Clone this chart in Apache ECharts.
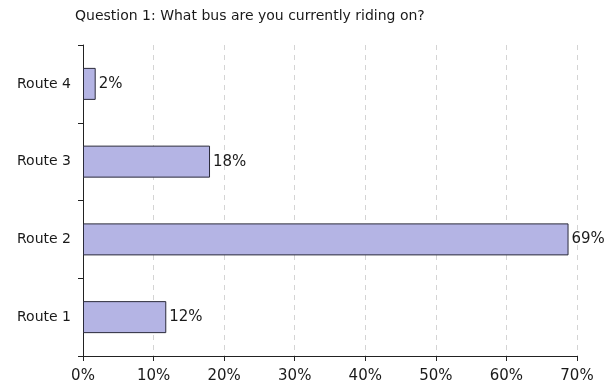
<!DOCTYPE html>
<html><head><meta charset="utf-8">
<script src="https://cdn.jsdelivr.net/npm/echarts@6/dist/echarts.min.js"></script>
<style>html,body{margin:0;padding:0;background:#fff}#c{width:604px;height:386px}</style>
</head><body><div id="c"></div>
<script>
const categories = ['Route 1', 'Route 2', 'Route 3', 'Route 4'];
const values = [11.8, 68.8, 18, 1.8];
const xTicks = [0, 10, 20, 30, 40, 50, 60, 70];
const titleText = 'Question 1: What bus are you currently riding on?';

const chart = echarts.init(document.getElementById('c'));
chart.setOption({
  animation: false,
  backgroundColor: '#fff',
  textStyle: { fontFamily: 'DejaVu Sans' },
  title: {
    text: titleText, left: 75, top: 9, padding: 0,
    textStyle: { fontFamily: 'DejaVu Sans', fontSize: 14, fontWeight: 'normal', color: '#1a1a1a' }
  },
  grid: { left: 83, right: 27, top: 45, bottom: 30 },
  xAxis: {
    type: 'value', min: xTicks[0], max: xTicks[xTicks.length - 1], interval: 10,
    axisLine: { show: true, lineStyle: { color: '#222' } },
    axisTick: { show: true, length: 5, lineStyle: { color: '#222' } },
    axisLabel: { formatter: v => v + '%', fontSize: 15, color: '#1a1a1a', margin: 13 },
    splitLine: { show: true, lineStyle: { color: '#d4d4d4', type: [5, 5] } }
  },
  yAxis: {
    type: 'category', data: categories,
    axisLine: { show: true, lineStyle: { color: '#222' } },
    axisTick: { show: true, length: 5, lineStyle: { color: '#222' } },
    axisLabel: { fontSize: 14, color: '#1a1a1a', margin: 12 },
    splitLine: { show: false }
  },
  series: [{
    type: 'bar', data: values, barWidth: 32,
    itemStyle: { color: '#b4b4e4', borderColor: '#2a2a3a', borderWidth: 1 },
    label: { show: true, position: 'right', distance: 3, formatter: p => Math.round(p.value) + '%', fontSize: 15, color: '#1a1a1a' }
  }]
});
</script></body></html>
